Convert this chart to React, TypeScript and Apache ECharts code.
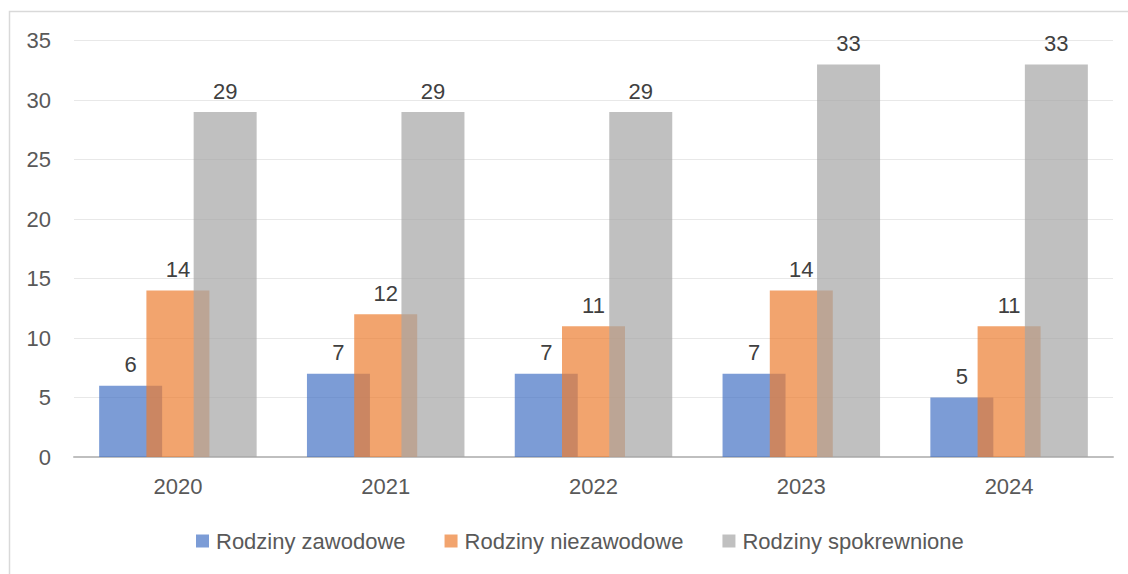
import React, { useEffect, useRef } from "react";
import * as echarts from "echarts";

const categories = ["2020", "2021", "2022", "2023", "2024"];
const seriesNames = ["Rodziny zawodowe", "Rodziny niezawodowe", "Rodziny spokrewnione"];
const zawodowe = [6, 7, 7, 7, 5];
const niezawodowe = [14, 12, 11, 14, 11];
const spokrewnione = [29, 29, 29, 33, 33];
const colors = ["rgba(68,114,196,0.7)", "rgba(237,125,49,0.7)", "rgba(165,165,165,0.7)"];

const FONT = "'Liberation Sans', Arial, sans-serif";
const TEXT = "#595959";

export default function App() {
  const ref = useRef<HTMLDivElement>(null);
  useEffect(() => {
    if (!ref.current) return;
    const chart = echarts.init(ref.current, undefined, { renderer: "svg" });
    const values = [zawodowe, niezawodowe, spokrewnione];
    chart.setOption({
      animation: false,
      backgroundColor: "#ffffff",
      textStyle: { fontFamily: FONT },
      graphic: [
        {
          type: "rect",
          shape: { x: 9.5, y: 11.5, width: 1200, height: 700 },
          style: { fill: "none", stroke: "#d9d9d9", lineWidth: 1.5 },
          silent: true,
        },
      ],
      grid: { left: 74, right: 15, top: 40.7, bottom: 117, containLabel: false },
      legend: {
        bottom: 17,
        left: 191,
        itemWidth: 13,
        itemHeight: 13,
        itemGap: 39,
        icon: "rect",
        textStyle: { fontFamily: FONT, fontSize: 22, color: TEXT, padding: [0, 0, 0, 2] },
        data: seriesNames,
      },
      xAxis: {
        type: "category",
        data: categories,
        axisLine: { lineStyle: { color: "#bfbfbf", width: 2 } },
        axisTick: { show: false },
        axisLabel: { fontFamily: FONT, fontSize: 22, color: TEXT, margin: 18 },
      },
      yAxis: {
        type: "value",
        min: 0,
        max: 35,
        interval: 5,
        axisLine: { show: false },
        axisTick: { show: false },
        splitLine: { lineStyle: { color: "#e8e8e8", width: 1 } },
        axisLabel: { fontFamily: FONT, fontSize: 22, color: TEXT, margin: 23 },
      },
      series: seriesNames.map((name, i) => ({
        name,
        type: "bar",
        data: values[i],
        barWidth: 63,
        barGap: "-25%",
        itemStyle: { color: colors[i] },
        label: {
          show: true,
          position: "top",
          distance: 10,
          fontFamily: FONT,
          fontSize: 22,
          color: "#404040",
        },
      })),
    });
    return () => chart.dispose();
  }, []);
  return (
    <div
      ref={ref}
      style={{ position: "fixed", left: 0, top: 0, width: 1128, height: 574 }}
    />
  );
}
